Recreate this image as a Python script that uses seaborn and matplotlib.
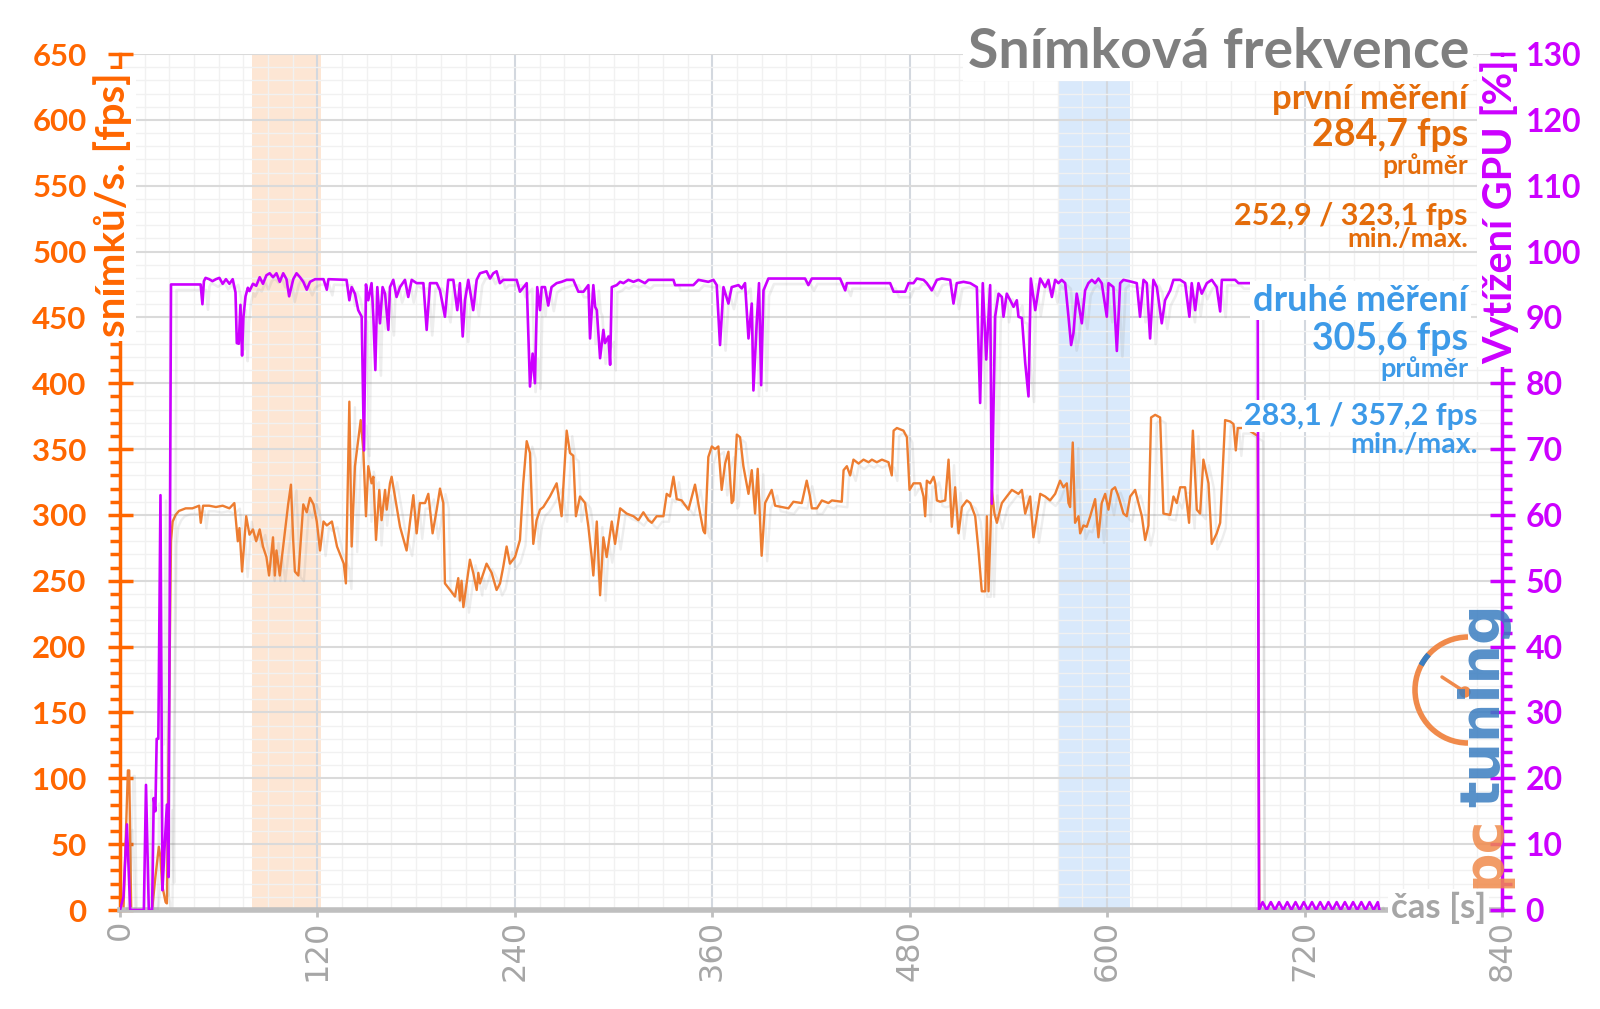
import matplotlib
matplotlib.use("Agg")
import matplotlib.pyplot as plt
import matplotlib.patheffects as pe
from matplotlib.patches import Arc, Ellipse
from matplotlib.lines import Line2D
from matplotlib.ticker import MultipleLocator
import seaborn as sns
import pandas as pd

# ---------------- data ----------------
x_ticks = [0, 120, 240, 360, 480, 600, 720, 840]
fps_ticks = [0, 50, 100, 150, 200, 250, 300, 350, 400, 450, 500, 550, 600, 650]
gpu_ticks = [0, 10, 20, 30, 40, 50, 60, 70, 80, 90, 100, 110, 120, 130]

band_first = [80, 122]     # "první měření" window [s]
band_second = [570, 614]   # "druhé měření" window [s]

# (time s, fps)
fps_readings = [
    (0, 0), (2.1, 0), (4.8, 106), (5.6, 106), (6.8, 0), (19.5, 0), (21.5, 25), (23.6, 48), (24.6, 40),
    (25.6, 19), (27.7, 6), (28.5, 5), (31, 280), (32, 295), (33.8, 300), (35.8, 303), (39.9, 305), (44, 305),
    (48.1, 307), (49.1, 294), (50.5, 307), (54.2, 307), (58.3, 306), (62.4, 307), (66.5, 305), (69.5, 309),
    (71.6, 280), (72.6, 290), (74.2, 257), (76.7, 299), (78.7, 285), (80.8, 289), (82.8, 280), (84.9, 289),
    (86.9, 276), (89, 268), (90.6, 254), (93, 283), (94.1, 254), (95.1, 273), (97.1, 254), (99.2, 276),
    (102.2, 308), (103.9, 323), (105.3, 280), (106.3, 257), (108.4, 254), (111.4, 308), (113.5, 302),
    (115.5, 313), (117.6, 308), (119.6, 295), (121.6, 273), (123.7, 295), (125.7, 292), (128.8, 295),
    (131.9, 276), (136, 263),
    (137.3, 248), (139.4, 386), (140.8, 276), (142.8, 337), (146.3, 372), (147.9, 349), (149.5, 299),
    (150.9, 337), (152.9, 324), (154, 329), (155.6, 281), (157.6, 319), (159, 296), (161.1, 319), (162.1, 304),
    (164.1, 324), (165.1, 329), (167.1, 314), (170.2, 291), (174.2, 273), (176.2, 294), (178.3, 315),
    (180.3, 286), (182.3, 309), (185.4, 309), (187.4, 316), (190, 286), (192.5, 304), (194.5, 320),
    (196.5, 309), (197.5, 248), (200.6, 243), (203.6, 238), (205.6, 252), (206.6, 235), (207.6, 250),
    (208.7, 230), (210.7, 248), (212.7, 266), (214.7, 256), (216.8, 243), (217.8, 256), (218.8, 248),
    (222.8, 263), (225.9, 256), (228.9, 243), (231, 248), (233, 261), (235, 276), (237, 263), (240.1, 268),
    (243.1, 281), (245.1, 324), (247.2, 356), (249.2, 347), (251.2, 278), (253.2, 296), (255.3, 304),
    (257.3, 306), (261.3, 314), (265.4, 324), (268.4, 299), (271.5, 364), (273.5, 347), (275.5, 345),
    (277.1, 299), (279.6, 314),
    (282.7, 309), (284.7, 291), (286.7, 268), (287.7, 254), (289.8, 295), (291.8, 239), (293.8, 283),
    (295.8, 268), (298.9, 295), (300.9, 278), (304, 305), (308, 301), (312.1, 299), (315.1, 296),
    (318.1, 302), (321.2, 296), (323.2, 294), (326.2, 299), (330.3, 299), (332.3, 316), (334.3, 314),
    (336.4, 329), (338.4, 312), (341.4, 311), (345.5, 304), (349.5, 323), (352.6, 301), (354.6, 288),
    (355.6, 286), (357.6, 344), (359.7, 352), (361.7, 350), (363.7, 352), (365.7, 319), (367.8, 339),
    (369.8, 348), (371.8, 309), (372.8, 311), (374.9, 361), (376.9, 359), (378.9, 337), (382, 316),
    (384, 334), (386, 301), (387.6, 335), (390, 269), (392.1, 309), (394.1, 314), (396.1, 319), (398.2, 307),
    (402.2, 306), (406.3, 305), (409.3, 310), (414.4, 309), (417.4, 326), (419.4, 314),
    (420.5, 305), (423.6, 305), (426.6, 311), (430.6, 309), (432.7, 311), (438.7, 310), (439.8, 334),
    (441.8, 337), (443.8, 330), (445.8, 342), (448.9, 339), (451.9, 342), (455, 340), (457, 342), (460, 340),
    (463.1, 342), (467.1, 340), (469.1, 330), (470.2, 364), (472.2, 366), (476.2, 364), (478.3, 359),
    (479.9, 319), (482.3, 324), (486.4, 324), (488.4, 314), (489.4, 299), (490.4, 326), (492.4, 324),
    (494.5, 329), (495.5, 324), (496.5, 311), (498.5, 310), (501.6, 311), (503.6, 342), (505.6, 291),
    (507.6, 321), (509.7, 286), (511.7, 306), (514.7, 311), (516.8, 309), (519.8, 299), (521.8, 273),
    (523.8, 242), (525.9, 242), (526.9, 299), (527.9, 242), (529.9, 319), (531.5, 301), (533, 294),
    (536, 309), (539, 314), (542.1, 319), (546.1, 316), (548.2, 319), (550.2, 301), (553.2, 314),
    (555.2, 283), (559.3, 316),
    (562.3, 314), (565.3, 311), (568.4, 316), (571.4, 326), (573.4, 321), (575.5, 324), (576.5, 309),
    (577.5, 306), (579.1, 355), (580.5, 294), (582.6, 299), (583.6, 286), (585.6, 292), (587.6, 291),
    (589.7, 299), (592.7, 312), (594.7, 283), (596.7, 309), (598.8, 316), (600.8, 304), (602.8, 319),
    (604.8, 321), (606.9, 314), (609.9, 301), (611.9, 299), (614, 314), (617, 319), (621.1, 299),
    (623.1, 281), (625.1, 292), (626.7, 374), (629.2, 376), (632.2, 374), (634.2, 301), (638.3, 300),
    (640.3, 314), (642.3, 309), (644.4, 321), (647.4, 321), (649.8, 294), (652.1, 364), (654.5, 304),
    (656.5, 301), (658.5, 342), (661.6, 324), (663.6, 278), (666.6, 286), (668.7, 294), (671.7, 372),
    (674.7, 371), (676.8, 369), (678.2, 349), (679.4, 366), (684, 366), (689, 362), (691.5, 360),
    (692.5, 0), (765, 0),
]

# (time s, GPU load %)
gpu_readings = [
    (0, 0), (2.1, 2), (4.2, 13), (6.2, 0), (14.5, 0), (15.8, 19), (17.5, 0), (19.5, 0), (20.5, 17),
    (21.5, 15), (22.3, 26), (23.3, 26), (24.6, 63), (25.8, 3), (27.2, 10), (28.5, 16), (29.5, 5), (31, 95),
    (49, 95), (50.1, 92), (51, 95.5), (52, 96), (54.2, 95.8), (56.2, 95.5), (58.3, 95.8), (60.4, 96),
    (62.4, 95.1), (64.4, 95.8), (66.5, 95.1), (68.5, 95.8), (70.2, 93.8), (71, 86.1), (72.2, 86),
    (73.2, 91.9), (74.2, 84.2), (75, 90), (76.3, 93.2), (77.7, 94.5), (78.7, 94), (80.8, 95.1), (82.8, 94.8),
    (84.9, 96.1), (86.9, 95.1), (89, 96.4), (91, 96.7), (93, 96.1), (95.1, 96.7), (97.1, 95.4), (99.2, 96.7),
    (101.2, 95.8), (102.8, 93.2), (105.3, 95.8), (107.3, 96.7), (109.4, 96.1), (111.4, 95.4), (113.5, 94.2),
    (115.5, 95.4), (118.6, 95.8), (123.7, 95.8), (125.7, 94.2), (126.7, 95.8), (137.7, 95.7),
    (139.4, 92.6), (140.8, 94.6), (142.8, 93.6), (144.8, 91.1), (146.9, 90.1), (148.3, 69.8), (149.5, 95),
    (150.9, 92.6), (152.9, 95.2), (154, 90.1), (155.2, 82), (156.4, 94.6), (158, 89.1), (159.6, 94.6),
    (161.1, 93.6), (163.1, 88.1), (164.1, 94.6), (166.1, 95.7), (168.1, 93.1), (170.2, 94.6), (173.2, 95.7),
    (175.2, 93.1), (177.3, 95.7), (180.3, 95.2), (184.4, 95.2), (186.4, 88.1), (188.4, 95.2), (192.5, 95.2),
    (194.5, 94.1), (197.5, 90.1), (199.5, 95.7), (202.6, 95.7), (205, 91.1), (206.6, 95.2), (208.3, 87.1),
    (209.7, 92.6), (211.7, 95.7), (214.7, 91.1), (216.8, 95.7), (218.8, 96.7), (222.8, 97), (224.9, 95.9),
    (226.9, 96.7), (228.9, 97), (230.9, 95.2), (233, 95.7), (241.1, 95.7), (243.1, 93.9), (247.2, 95.2),
    (249.2, 79.5), (250.8, 84.5), (252.2, 80), (253.6, 94.6), (255.3, 91.1), (256.3, 94.6), (258.3, 94.6),
    (260.3, 91.8), (262.3, 94.6), (265.4, 95.2), (268.4, 95.4), (271.5, 95.7), (275.5, 95.7),
    (278.6, 93.9), (281.7, 93.9), (284.7, 94.9), (285.7, 86.8), (287.7, 94.9), (288.8, 91.6), (289.8, 91.1),
    (291.8, 83.8), (293.8, 88.1), (294.8, 86.1), (296.9, 87.1), (297.9, 82.8), (298.9, 94.6), (301.9, 94.9),
    (304, 95.4), (306, 95.2), (309, 95.7), (312.1, 95.4), (315.1, 95.7), (319.1, 95.2), (321.2, 95.7),
    (336.4, 95.7), (337.4, 94.9), (348.5, 94.9), (351.6, 95.7), (357.6, 95.4), (360.7, 95.7), (362.7, 94.9),
    (364.7, 85.8), (366.8, 94.6), (369.8, 92.1), (371.8, 94.6), (375.9, 94.9), (377.9, 94.4), (379.9, 95.2),
    (382, 86.8), (384, 92.1), (385, 78.9), (387, 89.1), (388.4, 95.2), (389.7, 79.7), (391.1, 94.1),
    (394.1, 95.9), (416.4, 95.9), (418.4, 94.9), (420.5, 95.9),
    (437.7, 95.9), (440.8, 94.1), (441.8, 95.2), (468.1, 95.2), (470.2, 93.9), (477.2, 93.9), (479.3, 95.2),
    (482.3, 95.2), (484.3, 95.9), (488.4, 95.7), (490.4, 95.2), (493.4, 94.1), (496.5, 95.7), (499.5, 95.9),
    (504.6, 95.7), (506.6, 92.1), (508.6, 95.2), (512.7, 95.4), (516.8, 95.2), (520.8, 94.6), (522.8, 77),
    (524.4, 95.2), (526.5, 83.6), (528.9, 94.9), (529.9, 61.7), (531.9, 90.1), (534, 93.6), (536, 93.1),
    (537, 90.1), (539, 93.6), (541.1, 92.6), (543.1, 91.6), (545.1, 92.6), (546.1, 90.1), (548.2, 89.9),
    (550.2, 83.1), (552.2, 78), (553.6, 95.9), (556.3, 91.1), (559.3, 95.9),
    (562.3, 94.6), (564.3, 95.7), (566.4, 93.1), (568.4, 95.7), (570.4, 95.2), (572.4, 95.7), (574.5, 95.2),
    (576.5, 90.1), (578.1, 85.8), (579.5, 87.6), (581.5, 93.6), (582.6, 92.1), (584.6, 89.1), (586.6, 94.1),
    (588.6, 95.2), (590.7, 95.7), (592.7, 95.2), (594.7, 95.9), (596.7, 95.2), (599.8, 90.1), (600.8, 95.2),
    (603.8, 94.6), (605.9, 84.9), (607.9, 95.2), (609.9, 95.7), (615, 95.4), (618, 95.2), (620, 90.1),
    (622.1, 95.7), (624.1, 95.2), (626.1, 86.8), (628.1, 95.7), (630.2, 94.6), (633.2, 89.1), (635.2, 92.6),
    (638.3, 94.1), (640.3, 95.7), (644.4, 95.7), (647.4, 95.2), (650, 90.1), (651.4, 95.2), (653.5, 91.1),
    (655.5, 95.2), (657.5, 93.6), (660.6, 95.2), (663.6, 95.7), (666.6, 94.6), (668.7, 90.9), (669.7, 95.7),
    (677.8, 95.7), (679.8, 95.2), (691.5, 95.2), (692.3, 0),
    (694.5, 1.2), (697, 0), (699.5, 1.2), (702, 0), (704.5, 1.2), (707, 0), (709.5, 1.2), (712, 0),
    (714.5, 1.2), (717, 0), (719.5, 1.2), (722, 0), (724.5, 1.2), (727, 0), (729.5, 1.2), (732, 0),
    (734.5, 1.2), (737, 0), (739.5, 1.2), (742, 0), (744.5, 1.2), (747, 0), (749.5, 1.2), (752, 0),
    (754.5, 1.2), (757, 0), (759.5, 1.2), (762, 0), (764.5, 1.2), (765.5, 0),
]

first_texts = ["první měření", "284,7 fps", "průměr", "252,9 / 323,1 fps", "min./max."]
second_texts = ["druhé měření", "305,6 fps", "průměr", "283,1 / 357,2 fps", "min./max."]

# ---------------- style ----------------
ORANGE = "#ff6600"
FPS_LINE = "#ed7d31"
ANNO_OR = "#e46c0a"
PURPLE = "#cc00ff"
BLUE = "#3d9ae8"
GRAY_T = "#7f7f7f"
GRAY_L = "#a6a6a6"
LOGO_OR = "#f08a4b"
LOGO_BL = "#3a7dc0"

sns.set_theme(style="white")
plt.rcParams["font.family"] = ["Lato", "DejaVu Sans"]

W, H = 1600, 1009
fig = plt.figure(figsize=(W / 100, H / 100), dpi=100)
ax = fig.add_axes([120 / W, 1 - 910 / H, (1502 - 120) / W, (910 - 54) / H])
ax2 = ax.twinx()

ax.set_xlim(0, 840)
ax.set_ylim(0, 650)
ax2.set_ylim(0, 130)

# bands
ax.axvspan(band_first[0], band_first[1], color="#fde6d4", lw=0, zorder=0.1)
ax.axvspan(band_second[0], band_second[1], color="#d9e9fb", lw=0, zorder=0.1)

# grid
ax.set_axisbelow(True)
ax.xaxis.set_minor_locator(MultipleLocator(15))
ax.yaxis.set_minor_locator(MultipleLocator(10))
ax.grid(which="minor", color="#f1f1f1", lw=1.0)
ax.grid(which="major", axis="y", color="#dadada", lw=1.5)
ax.grid(which="major", axis="x", color="#d3d8df", lw=1.5)

fps_df = pd.DataFrame(fps_readings, columns=["t", "fps"])
gpu_df = pd.DataFrame(gpu_readings, columns=["t", "gpu"])

shadow = [pe.SimpleLineShadow(offset=(4, -4), shadow_color="#777777", alpha=0.12), pe.Normal()]

sns.lineplot(data=fps_df, x="t", y="fps", ax=ax, color=FPS_LINE, linewidth=1.7,
             estimator=None, sort=False)
ax.lines[-1].set_path_effects(shadow)
sns.lineplot(data=gpu_df, x="t", y="gpu", ax=ax2, color=PURPLE, linewidth=1.9,
             estimator=None, sort=False)
ax2.lines[-1].set_path_effects(shadow)

for a in (ax, ax2):
    a.set_xlabel("")
    a.set_ylabel("")

# spines
ax.spines["top"].set_visible(False)
ax.spines["right"].set_visible(False)
ax.spines["left"].set_color(ORANGE)
ax.spines["left"].set_linewidth(2.5)
ax.spines["bottom"].set_color("#bfbfbf")
ax.spines["bottom"].set_linewidth(4)
for s in ("top", "left", "bottom"):
    ax2.spines[s].set_visible(False)
ax2.spines["right"].set_color(PURPLE)
ax2.spines["right"].set_linewidth(2.5)

# x ticks
ax.set_xticks(x_ticks)
ax.set_xticklabels([str(v) for v in x_ticks], rotation=90, family="DejaVu Sans")
ax.tick_params(axis="x", which="major", bottom=True, direction="out", length=5, width=2,
               color="#bfbfbf", labelcolor=GRAY_L, labelsize=23, pad=2)
ax.tick_params(axis="x", which="minor", bottom=False, length=0)

# left y ticks
ax.set_yticks(fps_ticks)
ax.set_yticklabels([str(v) for v in fps_ticks], fontweight="bold")
ax.tick_params(axis="y", which="major", left=True, direction="inout", length=18, width=2.5,
               color=ORANGE, labelcolor=ORANGE, labelsize=22.5, pad=15)
ax.tick_params(axis="y", which="minor", left=True, direction="out", length=7, width=2.5, color=ORANGE)

# right y ticks
ax2.set_yticks(gpu_ticks)
ax2.set_yticklabels([str(v) for v in gpu_ticks], fontweight="bold")
ax2.yaxis.set_minor_locator(MultipleLocator(2))
ax2.tick_params(axis="y", which="major", right=True, direction="inout", length=18, width=2.5,
                color=PURPLE, labelcolor=PURPLE, labelsize=23, pad=8)
ax2.tick_params(axis="y", which="minor", right=True, direction="out", length=7, width=2.5, color=PURPLE)
ax2.grid(False)


def ft(x, y, s, **kw):
    return fig.text(x / W, 1 - y / H, s, **kw)


white = dict(boxstyle="square,pad=0.08", fc="white", ec="none")

# title and axis titles
ft(1469, 68, "Snímková frekvence", ha="right", va="baseline", fontsize=40, fontweight="bold",
   color=GRAY_T, bbox=white, zorder=5)
ft(113, 205, "snímků/s. [fps]", rotation=90, ha="center", va="center", fontsize=29,
   fontweight="bold", color=ORANGE, bbox=white, zorder=5)
ft(1500, 212, "Vytížení GPU [%]", rotation=90, ha="center", va="center", fontsize=28.5,
   fontweight="bold", color=PURPLE, bbox=white, zorder=5)

# logo
ft(1484, 852, "pc", rotation=90, ha="center", va="center", fontsize=40, fontweight="bold",
   family="DejaVu Sans", color=LOGO_OR, alpha=0.85, zorder=4)
ft(1484, 705, "tuning", rotation=90, ha="center", va="center", fontsize=40, fontweight="bold",
   family="DejaVu Sans", color=LOGO_BL, alpha=0.85, zorder=4)
fig.add_artist(Arc((1468 / W, 1 - 690 / H), 106 / W, 106 / H, theta1=90, theta2=270,
                   transform=fig.transFigure, color=LOGO_OR, lw=4, zorder=4))
fig.add_artist(Arc((1468 / W, 1 - 690 / H), 106 / W, 106 / H, theta1=125, theta2=140,
                   transform=fig.transFigure, color=LOGO_BL, lw=4, zorder=4))
fig.add_artist(Line2D([1442 / W, 1465 / W], [1 - 677 / H, 1 - 692 / H], transform=fig.transFigure,
                      color=LOGO_OR, lw=2.5, zorder=4))
fig.add_artist(Ellipse((1465 / W, 1 - 692 / H), 10 / W, 10 / H, transform=fig.transFigure,
                       color=LOGO_OR, zorder=4))

ft(1486, 918, "čas [s]", ha="right", va="baseline", fontsize=25, fontweight="bold",
   color=GRAY_L, bbox=white, zorder=5)

# annotations – first measurement
ft(1468, 109, first_texts[0], ha="right", va="baseline", fontsize=25, fontweight="bold", color=ANNO_OR, zorder=5)
ft(1468, 146, first_texts[1], ha="right", va="baseline", fontsize=27, fontweight="bold", color=ANNO_OR, zorder=5)
ft(1468, 174, first_texts[2], ha="right", va="baseline", fontsize=19, fontweight="bold", color=ANNO_OR, zorder=5)
ft(1468, 225, first_texts[3], ha="right", va="baseline", fontsize=22, fontweight="bold", color=ANNO_OR, zorder=5)
ft(1468, 247, first_texts[4], ha="right", va="baseline", fontsize=19.5, fontweight="bold", color=ANNO_OR, zorder=5)

# annotations – second measurement
ft(1468, 311, second_texts[0], ha="right", va="baseline", fontsize=26, fontweight="bold", color=BLUE,
   bbox=white, zorder=5)
ft(1468, 350, second_texts[1], ha="right", va="baseline", fontsize=27, fontweight="bold", color=BLUE, zorder=5)
ft(1468, 377, second_texts[2], ha="right", va="baseline", fontsize=19.5, fontweight="bold", color=BLUE, zorder=5)
ft(1478, 425, second_texts[3], ha="right", va="baseline", fontsize=22, fontweight="bold", color=BLUE,
   bbox=white, zorder=5)
ft(1478, 453, second_texts[4], ha="right", va="baseline", fontsize=20.5, fontweight="bold", color=BLUE, zorder=6)

fig.savefig("out.png", dpi=100)
